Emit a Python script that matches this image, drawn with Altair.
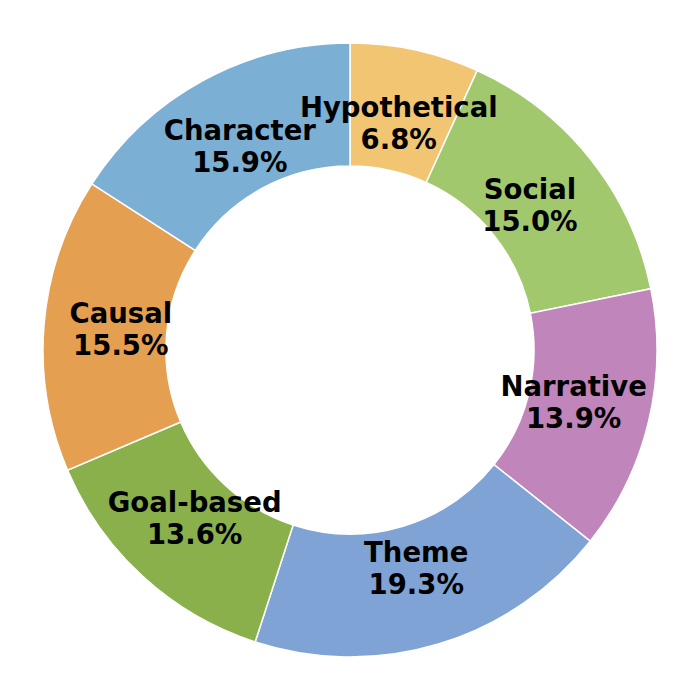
import altair as alt
import pandas as pd

categories = ["Hypothetical", "Social", "Narrative", "Theme", "Goal-based", "Causal", "Character"]
values = [6.8, 15.0, 13.9, 19.3, 13.6, 15.5, 15.9]
colors = ["#f2c572", "#a2c86e", "#c085bb", "#7fa3d5", "#8ab04b", "#e59f51", "#7bafd4"]

df = pd.DataFrame({
    "category": categories,
    "value": values,
    "order": list(range(len(categories))),
    "pct": [f"{v:.1f}%" for v in values],
})

base = alt.Chart(df).encode(
    theta=alt.Theta("value:Q", stack=True, scale=alt.Scale(range=[0, 6.283185307179586])),
    order=alt.Order("order:Q", sort="ascending"),
)

arcs = base.mark_arc(innerRadius=184, outerRadius=307, stroke="white", strokeWidth=1.5).encode(
    color=alt.Color("category:N", scale=alt.Scale(domain=categories, range=colors), legend=None)
)

text_kw = dict(radius=230, font="DejaVu Sans", fontWeight="bold", fontSize=27.5,
               color="black", align="center", baseline="middle")
names = base.mark_text(dy=-16, **text_kw).encode(text="category:N")
pcts = base.mark_text(dy=16, **text_kw).encode(text="pct:N")

chart = alt.layer(arcs, names, pcts).properties(
    width=684, height=684, padding=0, autosize=alt.AutoSizeParams(type="none")
).configure_view(strokeWidth=0)

chart.save("out.html", embed_options={"renderer": "svg", "actions": False})
